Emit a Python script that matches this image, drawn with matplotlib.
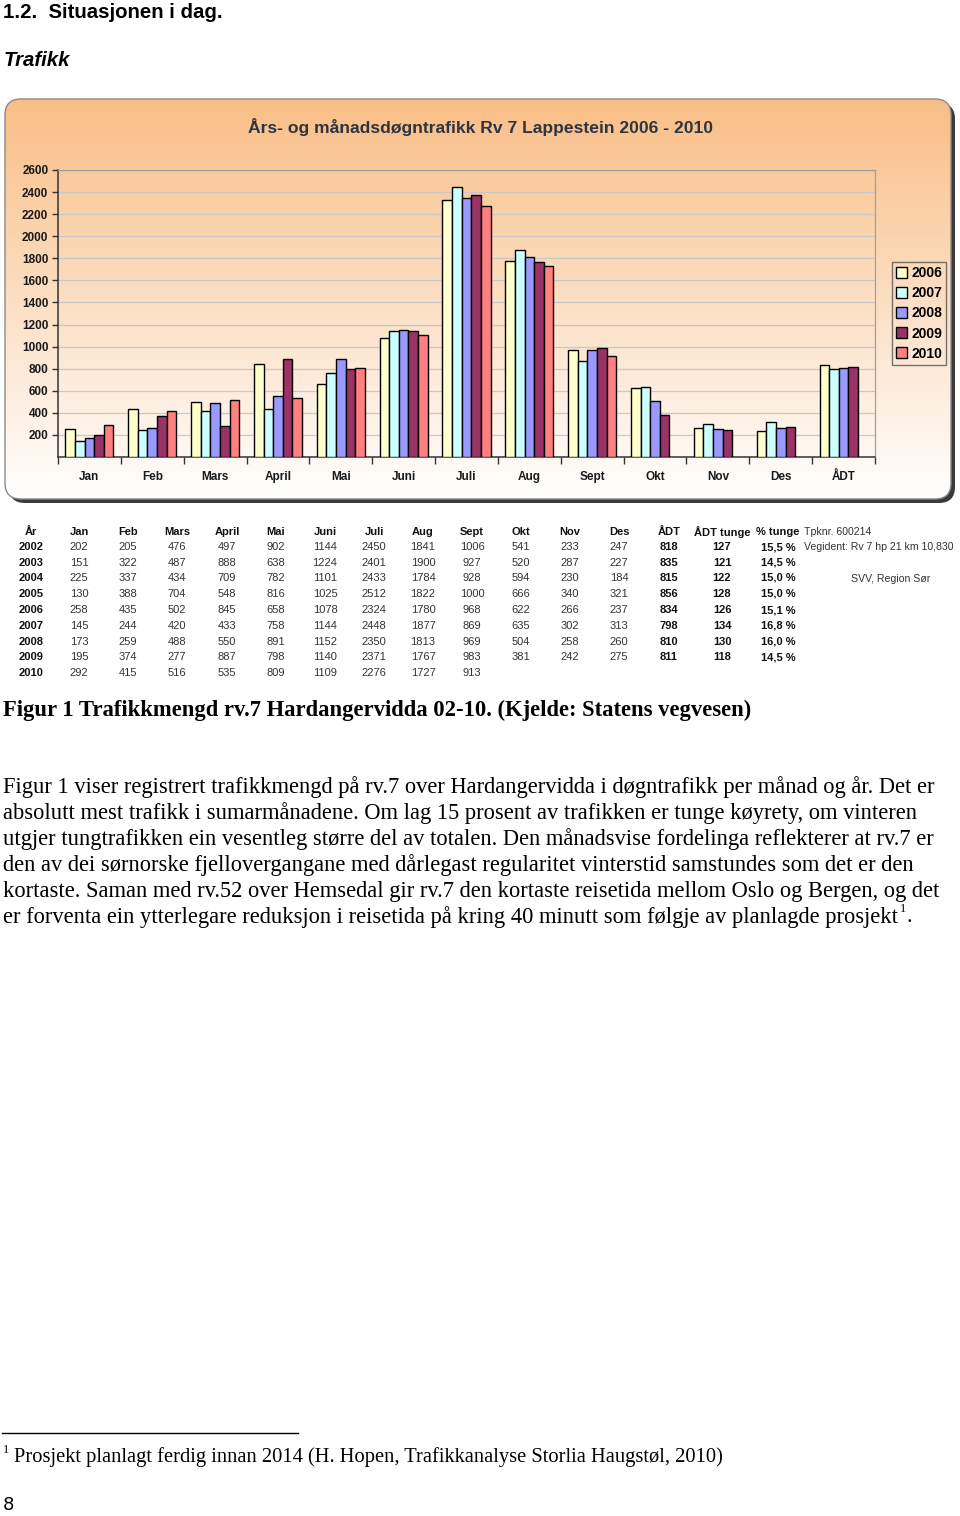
import matplotlib
matplotlib.use('Agg')
import matplotlib.pyplot as plt
import numpy as np
from matplotlib.patches import FancyBboxPatch
from matplotlib.lines import Line2D

W, H = 960, 1516

# ---------------- data ----------------
months = ['Jan', 'Feb', 'Mars', 'April', 'Mai', 'Juni', 'Juli', 'Aug', 'Sept',
          'Okt', 'Nov', 'Des', 'ÅDT']
table_header = ['År'] + months + ['ÅDT tunge', '% tunge']
table_years = ['2002', '2003', '2004', '2005', '2006', '2007', '2008', '2009', '2010']
r2002 = [202, 205, 476, 497, 902, 1144, 2450, 1841, 1006, 541, 233, 247, 818, 127, '15,5 %']
r2003 = [151, 322, 487, 888, 638, 1224, 2401, 1900, 927, 520, 287, 227, 835, 121, '14,5 %']
r2004 = [225, 337, 434, 709, 782, 1101, 2433, 1784, 928, 594, 230, 184, 815, 122, '15,0 %']
r2005 = [130, 388, 704, 548, 816, 1025, 2512, 1822, 1000, 666, 340, 321, 856, 128, '15,0 %']
r2006 = [258, 435, 502, 845, 658, 1078, 2324, 1780, 968, 622, 266, 237, 834, 126, '15,1 %']
r2007 = [145, 244, 420, 433, 758, 1144, 2448, 1877, 869, 635, 302, 313, 798, 134, '16,8 %']
r2008 = [173, 259, 488, 550, 891, 1152, 2350, 1813, 969, 504, 258, 260, 810, 130, '16,0 %']
r2009 = [195, 374, 277, 887, 798, 1140, 2371, 1767, 983, 381, 242, 275, 811, 118, '14,5 %']
r2010 = [292, 415, 516, 535, 809, 1109, 2276, 1727, 913]
table_rows = [r2002, r2003, r2004, r2005, r2006, r2007, r2008, r2009, r2010]

chart_years = ['2006', '2007', '2008', '2009', '2010']
chart_rows = [r2006, r2007, r2008, r2009, r2010]
bar_colors = ['#FFFFCC', '#CCFFFF', '#9999FF', '#993366', '#FF8080']
yticks = [200, 400, 600, 800, 1000, 1200, 1400, 1600, 1800, 2000, 2200, 2400, 2600]

chart_title = 'Års- og månadsdøgntrafikk Rv 7 Lappestein 2006 - 2010'
heading = '1.2.  Situasjonen i dag.'
subheading = 'Trafikk'
caption = 'Figur 1 Trafikkmengd rv.7 Hardangervidda 02-10. (Kjelde: Statens vegvesen)'
para = [
    'Figur 1 viser registrert trafikkmengd på rv.7 over Hardangervidda i døgntrafikk per månad og år. Det er',
    'absolutt mest trafikk i sumarmånadene. Om lag 15 prosent av trafikken er tunge køyrety, om vinteren',
    'utgjer tungtrafikken ein vesentleg større del av totalen. Den månadsvise fordelinga reflekterer at rv.7 er',
    'den av dei sørnorske fjellovergangane med dårlegast regularitet vinterstid samstundes som det er den',
    'kortaste. Saman med rv.52 over Hemsedal gir rv.7 den kortaste reisetida mellom Oslo og Bergen, og det',
    'er forventa ein ytterlegare reduksjon i reisetida på kring 40 minutt som følgje av planlagde prosjekt',
]
footnote = 'Prosjekt planlagt ferdig innan 2014 (H. Hopen, Trafikkanalyse Storlia Haugstøl, 2010)'

# ---------------- figure ----------------
fig = plt.figure(figsize=(W / 100, H / 100), dpi=100)
fig.patch.set_facecolor('white')

def fx(x):
    return x / W

def fy(y):
    return 1 - y / H

SANS = ['Liberation Sans', 'DejaVu Sans']
SERIF = ['Liberation Serif', 'DejaVu Serif']

# background axes in pixel coordinates
bg = fig.add_axes([0, 0, 1, 1])
bg.set_xlim(0, W)
bg.set_ylim(H, 0)
bg.axis('off')

bx0, by0, bx1, by1 = 5, 99, 951, 499
shadow = FancyBboxPatch((bx0 + 4, by0 + 4), bx1 - bx0, by1 - by0,
                        boxstyle='round,pad=0,rounding_size=16',
                        fc='#3a3a3a', ec='none', zorder=1)
bg.add_patch(shadow)
box = FancyBboxPatch((bx0, by0), bx1 - bx0, by1 - by0,
                     boxstyle='round,pad=0,rounding_size=16',
                     fc='white', ec='none', zorder=2)
bg.add_patch(box)
t = np.linspace(0, 1, 256)[:, None]
top = np.array([249, 190, 134]) / 255.0
bot = np.array([255, 255, 255]) / 255.0
grad = top[None, None, :] + (bot - top)[None, None, :] * t[:, :, None]
im = bg.imshow(grad, extent=(bx0, bx1, by1, by0), aspect='auto', zorder=3,
               interpolation='bilinear')
im.set_clip_path(box)
border = FancyBboxPatch((bx0, by0), bx1 - bx0, by1 - by0,
                        boxstyle='round,pad=0,rounding_size=16',
                        fc='none', ec='#8a8a8a', lw=1.0, zorder=4)
bg.add_patch(border)

# footnote rule
bg.add_line(Line2D([2, 298], [1433, 1433], color='black', lw=1.0))

# ---------------- bar chart ----------------
px0, px1, py_top, py_bot = 58, 875, 170, 457
ax = fig.add_axes([fx(px0), fy(py_bot), (px1 - px0) / W, (py_bot - py_top) / H])
ax.set_facecolor('none')
x = np.arange(len(months))
bw = 0.153
handles = []
for i, (yr, row, c) in enumerate(zip(chart_years, chart_rows, bar_colors)):
    vals = [row[k] if k < len(row) else np.nan for k in range(len(months))]
    vals = np.array(vals, dtype=float)
    b = ax.bar(x + (i - 2) * bw, vals, width=bw, color=c, edgecolor='black',
               linewidth=1.0, label=yr, zorder=3)
    handles.append(b)
ax.set_xlim(-0.5, len(months) - 0.5)
ax.set_ylim(0, 2600)
ax.set_yticks(yticks)
ax.set_yticklabels([str(v) for v in yticks])
ax.yaxis.grid(True, color='#c8c8c8', lw=0.9, zorder=0)
ax.set_axisbelow(True)
ax.set_xticks(x)
ax.set_xticklabels(months)
ax.set_xticks(np.arange(-0.5, len(months)), minor=True)
ax.tick_params(axis='x', which='major', length=0, pad=10)
ax.tick_params(axis='x', which='minor', length=5, width=1, color='#333333', direction='out')
ax.tick_params(axis='y', length=4, width=1, color='#333333', pad=3)
for lab in ax.get_xticklabels() + ax.get_yticklabels():
    lab.set_fontfamily(SANS)
    lab.set_fontweight('bold')
    lab.set_fontsize(8.5)
    lab.set_color('#1a1a1a')
for s in ['left', 'bottom']:
    ax.spines[s].set_color('#333333')
    ax.spines[s].set_linewidth(1.1)
for s in ['top', 'right']:
    ax.spines[s].set_color('#a0a0a0')
    ax.spines[s].set_linewidth(0.9)

fig.text(fx(480), fy(127), chart_title, ha='center', va='center',
         fontsize=12.6, fontweight='bold', color='#2e3440', family=SANS)

leg = fig.legend(handles=handles, labels=chart_years, loc='upper left',
                 bbox_to_anchor=(fx(892), fy(262)), borderaxespad=0,
                 borderpad=0.3, labelspacing=0.44, handlelength=0.8,
                 handleheight=0.8, handletextpad=0.3, frameon=True,
                 fancybox=False, prop={'family': SANS, 'weight': 'bold', 'size': 10})
leg.get_frame().set_edgecolor('#555555')
leg.get_frame().set_facecolor('none')
leg.get_frame().set_linewidth(1.0)

# ---------------- table ----------------
col_x = [31, 79, 128, 177, 227, 276, 325, 374, 423, 472, 521, 570, 619, 669, 722, 778]
header_y = 532
row_y = [547, 563, 578, 594, 610, 626, 642, 657, 673]
tfs = 8.0
for cx, h in zip(col_x, table_header):
    fig.text(fx(cx), fy(header_y), h, ha='center', va='center', fontsize=tfs,
             fontweight='bold', color='#111111', family=SANS)
for ry, yr, row in zip(row_y, table_years, table_rows):
    fig.text(fx(col_x[0]), fy(ry), yr, ha='center', va='center', fontsize=tfs,
             fontweight='bold', color='#111111', family=SANS)
    for k, v in enumerate(row):
        bold = k >= 12
        fig.text(fx(col_x[k + 1]), fy(ry), str(v), ha='center', va='center',
                 fontsize=tfs, fontweight='bold' if bold else 'normal',
                 color='#111111' if bold else '#333333', family=SANS)
fig.text(fx(804), fy(532), 'Tpknr. 600214', ha='left', va='center', fontsize=7.6,
         color='#333333', family=SANS)
fig.text(fx(804), fy(547), 'Vegident: Rv 7 hp 21 km 10,830', ha='left', va='center',
         fontsize=7.6, color='#333333', family=SANS)
fig.text(fx(891), fy(579), 'SVV, Region Sør', ha='center', va='center', fontsize=7.6,
         color='#333333', family=SANS)

# ---------------- page text ----------------
fig.canvas.draw()
rend = fig.canvas.get_renderer()

def fit(txt, target):
    bb = txt.get_window_extent(renderer=rend)
    txt.set_fontsize(txt.get_fontsize() * target / bb.width)
    return txt.get_fontsize()

th = fig.text(fx(3), fy(12), heading, ha='left', va='center', fontsize=13,
              fontweight='bold', family=SANS, color='black')
fit(th, 219)
ts = fig.text(fx(4), fy(60), subheading, ha='left', va='center', fontsize=13,
              fontweight='bold', fontstyle='italic', family=SANS, color='black')
fit(ts, 66)
tc = fig.text(fx(3), fy(710), caption, ha='left', va='center', fontsize=14,
              fontweight='bold', family=SERIF, color='black')
fit(tc, 750)

para_y = [787, 813, 839, 865, 891, 917]
t0 = fig.text(fx(3), fy(para_y[0]), para[0], ha='left', va='center', fontsize=15,
              family=SERIF, color='black')
pfs = fit(t0, 937)
last = None
for yy, line in zip(para_y[1:], para[1:]):
    last = fig.text(fx(3), fy(yy), line, ha='left', va='center', fontsize=pfs,
                    family=SERIF, color='black')
fig.canvas.draw()
bb = last.get_window_extent(renderer=rend)
sx = bb.x1 + 2
fig.text(sx / W, fy(909), '1', ha='left', va='center', fontsize=pfs * 0.55,
         family=SERIF, color='black')
fig.text((sx + 6) / W, fy(917), '.', ha='left', va='center', fontsize=pfs,
         family=SERIF, color='black')

fig.text(fx(3), fy(1450), '1', ha='left', va='center', fontsize=pfs * 0.55,
         family=SERIF, color='black')
tf = fig.text(fx(14), fy(1457), footnote, ha='left', va='center', fontsize=14,
              family=SERIF, color='black')
fit(tf, 713)
fig.text(fx(3), fy(1505), '8', ha='left', va='center', fontsize=13,
         family=['DejaVu Sans'], color='black')

fig.savefig('out.png', dpi=100)
